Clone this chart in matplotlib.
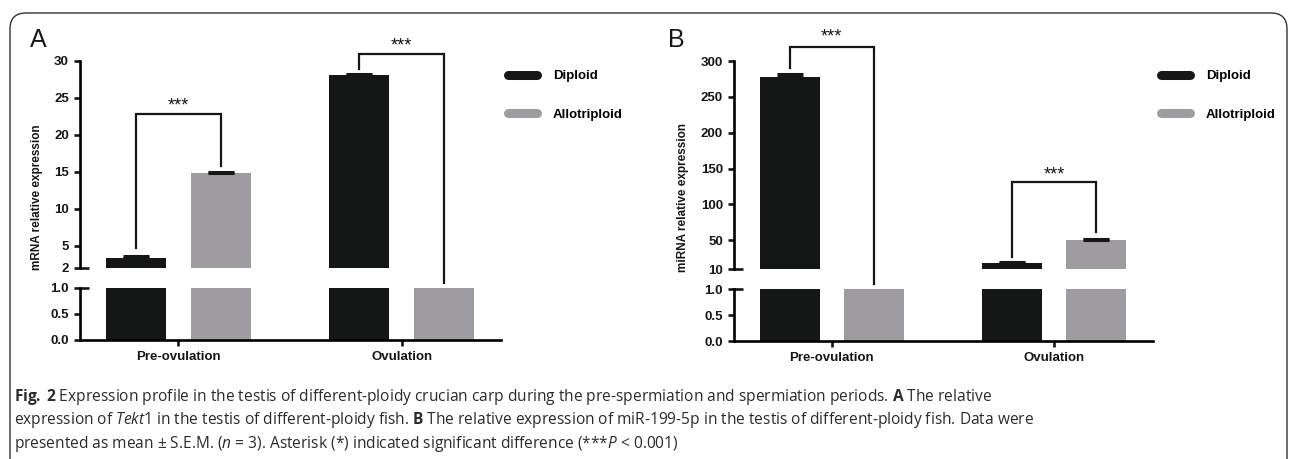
import matplotlib.pyplot as plt
from matplotlib.lines import Line2D
from matplotlib.patches import FancyBboxPatch

plt.rcParams['font.family'] = ['Liberation Sans', 'DejaVu Sans']
plt.rcParams['mathtext.fontset'] = 'custom'
plt.rcParams['mathtext.rm'] = 'Open Sans'
plt.rcParams['mathtext.it'] = 'Open Sans:italic'
plt.rcParams['mathtext.bf'] = 'Open Sans:bold'

# data
groups = ['Pre-ovulation', 'Ovulation']
series = ['Diploid', 'Allotriploid']
colors = ['#151716', '#9e9ca0']

tekt1_diploid = [3.4, 28.1]
tekt1_diploid_err = [0.25, 0.2]
tekt1_allo = [14.8, 1.0]
tekt1_allo_err = [0.15, 0.0]

mir_diploid = [277.0, 19.0]
mir_diploid_err = [5.0, 0.5]
mir_allo = [1.0, 51.0]
mir_allo_err = [0.0, 1.0]

W, H = 1290, 459
fig = plt.figure(figsize=(W / 100, H / 100), dpi=100)

LW = 1.9
BAR_W = 0.27
OFF = 0.19
FS = 9.5


def px(x0, y0, x1, y1):
    # pixel box (top-left origin) -> figure fraction rect
    return [x0 / W, 1 - y1 / H, (x1 - x0) / W, (y1 - y0) / H]


def errbars(ax, xs, means, errs):
    # only upper error bars, skip the ones with no spread
    pts = [(xv, m, e) for xv, m, e in zip(xs, means, errs) if e > 0]
    if not pts:
        return
    xs, ms, es = zip(*pts)
    ax.errorbar(xs, ms, yerr=[[0] * len(es), list(es)], fmt='none',
                ecolor='#151716', elinewidth=LW, capsize=9.5, capthick=2.2, zorder=3)


def panel(left, right, top_y, brk_hi, brk_lo, bot_y, upper_lim, upper_ticks,
          dip, dip_err, allo, allo_err, brackets, ylabel, label_x, letter, letter_x, leg_x):
    ax_t = fig.add_axes(px(left, top_y, right, brk_hi))
    ax_b = fig.add_axes(px(left, brk_lo, right, bot_y))
    x = [0, 1]
    for ax in (ax_t, ax_b):
        ax.bar([v - OFF for v in x], dip, BAR_W, color=colors[0], zorder=2)
        ax.bar([v + OFF for v in x], allo, BAR_W, color=colors[1], zorder=2)
        errbars(ax, [v - OFF for v in x], dip, dip_err)
        errbars(ax, [v + OFF for v in x], allo, allo_err)
        ax.set_xlim(-0.44, 1.445)
        for s in ('top', 'right'):
            ax.spines[s].set_visible(False)
        ax.spines['left'].set_linewidth(LW)
        ax.spines['bottom'].set_linewidth(LW)
        ax.tick_params(width=LW, length=4.5, labelsize=FS, colors='#151716')
    ax_t.set_ylim(upper_lim[0], upper_lim[1])
    ax_t.set_yticks(upper_ticks)
    ax_t.spines['bottom'].set_visible(False)
    ax_t.set_xticks([])
    ax_b.set_ylim(0, 1)
    ax_b.set_yticks([0, 0.5, 1.0])
    ax_b.set_yticklabels(['0.0', '0.5', '1.0'])
    ax_b.set_xticks(x)
    ax_b.set_xticklabels(groups, fontweight='bold', fontsize=FS)
    for ax in (ax_t, ax_b):
        for t in ax.get_yticklabels():
            t.set_fontweight('bold')
    # break caps
    ax_t.plot([0, 0.022], [0, 0], transform=ax_t.transAxes, color='#151716',
              lw=LW, clip_on=False, solid_capstyle='butt')
    ax_b.plot([0, 0.022], [1, 1], transform=ax_b.transAxes, color='#151716',
              lw=LW, clip_on=False, solid_capstyle='butt')

    # significance brackets
    for (g, top, lbot, rbot, star) in brackets:
        xl, xr = g - OFF, g + OFF
        ax_t.plot([xl, xl, xr, xr], [lbot, top, top, rbot], color='#151716',
                  lw=1.6, clip_on=False, zorder=4, solid_joinstyle='miter')
        ax_t.text(g, star, '***', ha='center', va='center', fontsize=13,
                  color='#151716', clip_on=False)

    fig.text(label_x / W, 1 - 197 / H, ylabel, rotation=90, ha='center', va='center',
             fontsize=8.5, fontweight='bold', color='#151716')
    fig.text(letter_x / W, 1 - 47 / H, letter, fontsize=18, color='#151716')

    handles = [Line2D([], [], color=c, lw=6.5, solid_capstyle='round') for c in colors]
    fig.legend(handles, series, loc='upper left', bbox_to_anchor=(leg_x / W, 1 - 70 / H),
               frameon=False, handlelength=2.2, handletextpad=1.2, labelspacing=2.0,
               borderpad=0, borderaxespad=0, prop={'weight': 'bold', 'size': FS})


panel(80, 501, 61, 268, 288, 340, (2, 30), [2, 5, 10, 15, 20, 25, 30],
      tekt1_diploid, tekt1_diploid_err, tekt1_allo, tekt1_allo_err,
      [(0, 22.8, 4.7, 15.8, 23.9), (1, 30.9, 28.9, -0.03, 32.0)],
      'mRNA relative expression', 37, 'A', 30, 508)

panel(734, 1153, 61, 269, 289, 341, (10, 300), [10, 50, 100, 150, 200, 250, 300],
      mir_diploid, mir_diploid_err, mir_allo, mir_allo_err,
      [(0, 319.5, 290, -11, 334), (1, 131, 26.7, 61.6, 141)],
      'miRNA relative expression', 683, 'B', 668, 1161)

# outer frame
frame = FancyBboxPatch((10, -40), 1277, H - 13 + 40, boxstyle='round,pad=0,rounding_size=16',
                       transform=None, fill=False, edgecolor='#333333', lw=1.0)
fig.patches.append(frame)

cap = [
    r'$\mathbf{Fig.}\:\mathbf{2}$ Expression profile in the testis of different-ploidy crucian carp during the pre-spermiation and spermiation periods. $\mathbf{A}$ The relative',
    r'expression of $\mathit{Tekt}$1 in the testis of different-ploidy fish. $\mathbf{B}$ The relative expression of miR-199-5p in the testis of different-ploidy fish. Data were',
    r'presented as mean ± S.E.M. ($\mathit{n}$ = 3). Asterisk (*) indicated significant difference (***$\mathit{P}$ < 0.001)',
]
for i, line in enumerate(cap):
    fig.text(14 / W, 1 - (397 + 23.5 * i) / H, line, ha='left', va='center',
             fontsize=11.2, family='Open Sans', color='#2b2b2b')

fig.savefig('out.png', dpi=100)
